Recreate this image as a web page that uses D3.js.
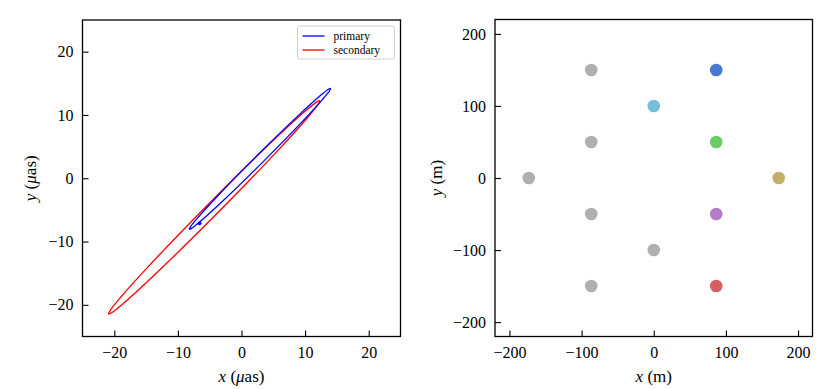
<!DOCTYPE html>
<html>
<head>
<meta charset="utf-8">
<script src="https://cdn.jsdelivr.net/npm/d3@7"></script>
<style>
  body { margin: 0; background: #fff; }
  svg text { font-family: "Liberation Serif", "DejaVu Serif", serif; fill: #000; }
</style>
</head>
<body>
<svg id="chart" width="830" height="389"></svg>
<script>
// orbit tracks (micro-arcseconds)
var primaryX = [14.00, 13.66, 12.27, 8.87, 2.42, -3.86, -6.95, -8.06, -8.20, -7.86, -6.47, -3.07, 3.38, 9.66, 12.75, 13.86];
var primaryY = [14.20, 14.06, 12.95, 9.85, 3.55, -2.92, -6.33, -7.72, -8.06, -7.92, -6.81, -3.71, 2.59, 9.06, 12.47, 13.86];
var secondaryX = [12.30, 11.79, 9.72, 4.64, -5.01, -14.41, -19.03, -20.68, -20.90, -20.39, -18.32, -13.24, -3.59, 5.81, 10.43, 12.08];
var secondaryY = [12.25, 12.03, 10.34, 5.64, -3.90, -13.69, -18.84, -20.94, -21.45, -21.23, -19.54, -14.84, -5.30, 4.49, 9.64, 11.74];
var markerPos = [-6.6, -7.1];
var seriesNames = ['primary', 'secondary'];

// telescope positions (m), right panel
var telX = [-86.6, -86.6, -86.6, -86.6, -173.2, 0, 86.6, 0, 86.6, 173.2, 86.6, 86.6];
var telY = [150, 50, -50, -150, 0, -100, 150, 100, 50, 0, -50, -150];
var telColor = ['#b0b0b0', '#b0b0b0', '#b0b0b0', '#b0b0b0', '#b0b0b0', '#b0b0b0',
                '#4878CF', '#77BEDB', '#6ACC65', '#C4AD66', '#B47CC7', '#D65F5F'];

var leftTicks = [-20, -10, 0, 10, 20];
var rightTicks = [-200, -100, 0, 100, 200];

var svg = d3.select('#chart');

function minusFmt(d) { return d < 0 ? '\u2212' + Math.abs(d) : '' + d; }

function drawAxes(g, x, y, ticks, w, h) {
  var xa = d3.axisBottom(x).tickValues(ticks).tickFormat(minusFmt).tickSizeInner(-6).tickSizeOuter(0).tickPadding(9);
  var ya = d3.axisLeft(y).tickValues(ticks).tickFormat(minusFmt).tickSizeInner(-6).tickSizeOuter(0).tickPadding(9);
  var gx = g.append('g').attr('transform', 'translate(0,' + h + ')').call(xa);
  var gy = g.append('g').call(ya);
  [gx, gy].forEach(function (a) {
    a.select('.domain').remove();
    a.selectAll('line').attr('stroke', '#000').attr('stroke-width', 1.1);
    a.selectAll('text').attr('font-size', 16).style('font-family', '"Liberation Serif", serif');
  });
  gx.selectAll('text').attr('dy', '0.75em');
  g.append('rect').attr('width', w).attr('height', h)
    .attr('fill', 'none').attr('stroke', '#000').attr('stroke-width', 1.3);
}

// ---- left panel: orbits
var L = { x: 82.5, y: 20, w: 318, h: 316.5 };
var gl = svg.append('g').attr('transform', 'translate(' + L.x + ',' + L.y + ')');
var xl = d3.scaleLinear().domain([-25, 25]).range([0, L.w]);
var yl = d3.scaleLinear().domain([-25, 25]).range([L.h, 0]);

var line = d3.line().x(function (d) { return xl(d[0]); }).y(function (d) { return yl(d[1]); })
  .curve(d3.curveCatmullRomClosed.alpha(0.5));

var prim = d3.zip(primaryX, primaryY);
var sec = d3.zip(secondaryX, secondaryY);

gl.append('path').attr('d', line(sec)).attr('fill', 'none').attr('stroke', '#ff0000').attr('stroke-width', 1.3);
gl.append('path').attr('d', line(prim)).attr('fill', 'none').attr('stroke', '#0000ff').attr('stroke-width', 1.3);
gl.append('circle').attr('cx', xl(markerPos[0])).attr('cy', yl(markerPos[1])).attr('r', 2).attr('fill', '#0000ff');

drawAxes(gl, xl, yl, leftTicks, L.w, L.h);

// legend
var lg = gl.append('g').attr('transform', 'translate(' + (L.w - 103) + ',6)');
lg.append('rect').attr('width', 97).attr('height', 33).attr('rx', 2)
  .attr('fill', '#fff').attr('stroke', '#d0d0d0').attr('stroke-width', 1);
var legColors = ['#0000ff', '#ff0000'];
seriesNames.forEach(function (n, i) {
  var yy = 10 + i * 14;
  lg.append('line').attr('x1', 5).attr('x2', 27).attr('y1', yy).attr('y2', yy)
    .attr('stroke', legColors[i]).attr('stroke-width', 1.3);
  lg.append('text').attr('x', 36).attr('y', yy + 3.5).attr('font-size', 11.5).text(n);
});

// axis labels
svg.append('text').attr('x', L.x + L.w / 2).attr('y', 382).attr('text-anchor', 'middle').attr('font-size', 17)
  .html('<tspan font-style="italic">x</tspan> (<tspan font-style="italic">\u03bc</tspan>as)');
svg.append('text').attr('transform', 'translate(36,' + (L.y + L.h / 2) + ') rotate(-90)')
  .attr('text-anchor', 'middle').attr('font-size', 17)
  .html('<tspan font-style="italic">y</tspan> (<tspan font-style="italic">\u03bc</tspan>as)');

// ---- right panel: array layout
var R = { x: 495, y: 19.5, w: 317.5, h: 317 };
var gr = svg.append('g').attr('transform', 'translate(' + R.x + ',' + R.y + ')');
var xr = d3.scaleLinear().domain([-220, 220]).range([0, R.w]);
var yr = d3.scaleLinear().domain([-220, 220]).range([R.h, 0]);

gr.selectAll('circle.tel').data(d3.range(telX.length)).join('circle')
  .attr('class', 'tel')
  .attr('cx', function (i) { return xr(telX[i]); })
  .attr('cy', function (i) { return yr(telY[i]); })
  .attr('r', 6.3)
  .attr('fill', function (i) { return telColor[i]; });

drawAxes(gr, xr, yr, rightTicks, R.w, R.h);

svg.append('text').attr('x', R.x + R.w / 2).attr('y', 382).attr('text-anchor', 'middle').attr('font-size', 17)
  .html('<tspan font-style="italic">x</tspan> (m)');
svg.append('text').attr('transform', 'translate(442,' + (R.y + R.h / 2) + ') rotate(-90)')
  .attr('text-anchor', 'middle').attr('font-size', 17)
  .html('<tspan font-style="italic">y</tspan> (m)');
</script>
</body>
</html>
